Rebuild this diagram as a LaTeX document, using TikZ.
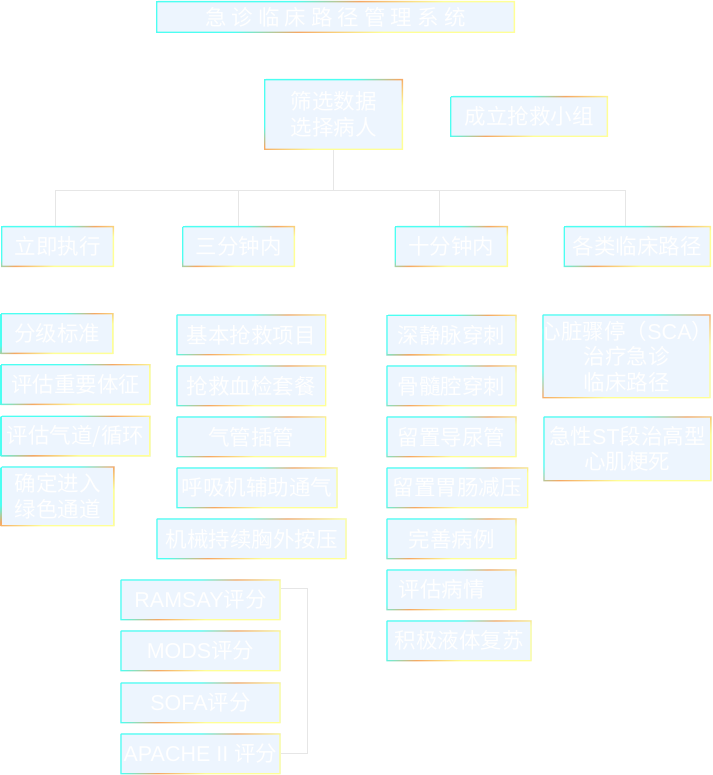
\documentclass[tikz,border=0pt]{standalone}
\usepackage{fontspec}
\setmainfont{Noto Sans CJK SC}
\newfontfamily\latf{Liberation Sans}
\usetikzlibrary{calc}
\definecolor{boxfill}{HTML}{EDF5FE}
\definecolor{gcy}{HTML}{4CFFF2}
\definecolor{gor}{HTML}{F5A864}
\definecolor{gye}{HTML}{FFFF96}
\definecolor{linec}{HTML}{E6E6E6}
\pgfdeclarehorizontalshading{gradsh}{100pt}{color(0pt)=(gcy); color(33pt)=(gcy); color(48pt)=(gor); color(68pt)=(gye); color(100pt)=(gye)}
\newcommand\gradframe[1]{%
  \pgfpointanchor{#1}{north west}\pgfgetlastxy{\gxa}{\gya}%
  \pgfpointanchor{#1}{south east}\pgfgetlastxy{\gxb}{\gyb}%
  \pgfmathsetmacro\gw{\gxb-\gxa}%
  \pgfmathsetmacro\gh{\gya-\gyb}%
  \pgfmathsetmacro\gs{(0.4472*\gw+0.8944*\gh)/100}%
  \begin{scope}[even odd rule]
    \clip (#1.north west) rectangle (#1.south east)
      ([shift={(1.3pt,-1.3pt)}]#1.north west) rectangle ([shift={(-1.3pt,1.3pt)}]#1.south east);
    \begin{scope}[transform canvas={shift={(#1.north west)}, rotate=-63.435, xscale=\gs, yscale=12}]
      \node[inner sep=0pt, outer sep=0pt, anchor=west] at (0,0) {\pgfuseshading{gradsh}};
    \end{scope}
  \end{scope}}
\tikzset{
  box/.style={fill=boxfill, text=white, inner sep=0pt, outer sep=0pt, align=center,
    font=\fontsize{21.5}{25.5}\selectfont, minimum height=41pt},
  conn/.style={draw=linec, line width=1pt}
}
\begin{document}
\begin{tikzpicture}[x=1pt,y=-1pt]
\useasboundingbox (0,0) rectangle (712,775);
% title and top
\node[box, minimum width=359pt, minimum height=32pt] (t) at (335.5,17) {急\hspace{5pt}诊\hspace{5pt}临\hspace{5pt}床\hspace{5pt}路\hspace{5pt}径\hspace{5pt}管\hspace{5pt}理\hspace{5pt}系\hspace{5pt}统};
\node[box, minimum width=139pt, minimum height=71pt] (s) at (333.5,114.5) {筛选数据\\选择病人};
\node[box, minimum width=158pt] (g) at (529,116.5) {成立抢救小组};
% categories
\node[box, minimum width=113pt] (c1) at (57.5,246.5) {立即执行};
\node[box, minimum width=113pt] (c2) at (238.5,246.5) {三分钟内};
\node[box, minimum width=113.5pt] (c3) at (451.25,246.5) {十分钟内};
\node[box, minimum width=147.5pt] (c4) at (637.25,246.5) {各类临床路径};
% column 1
\node[box, minimum width=113pt] (a1) at (57,333.5) {分级标准};
\node[box, minimum width=150pt] (a2) at (75.5,384.5) {评估重要体征};
\node[box, minimum width=150pt] (a3) at (75.5,436) {评估气道/循环};
\node[box, minimum width=114pt, minimum height=60pt] (a4) at (57.5,496.3) {确定进入\\绿色通道};
% column 2
\node[box, minimum width=150pt] (b1) at (251.3,334.8) {基本抢救项目};
\node[box, minimum width=150pt] (b2) at (251.3,385.8) {抢救血检套餐};
\node[box, minimum width=150pt] (b3) at (251.3,436.8) {气管插管};
\node[box, minimum width=161.4pt] (b4) at (257,487.8) {呼吸机辅助通气};
\node[box, minimum width=190.4pt] (b5) at (251.5,538.8) {机械持续胸外按压};
% column 3
\node[box, minimum width=130.4pt] (d1) at (451.5,335) {深静脉穿刺};
\node[box, minimum width=130.4pt] (d2) at (451.5,385.8) {骨髓腔穿刺};
\node[box, minimum width=130.4pt] (d3) at (451.5,436.8) {留置导尿管};
\node[box, minimum width=142pt] (d4) at (457.3,487.8) {留置胃肠减压};
\node[box, minimum width=130.4pt] (d5) at (451.5,538.8) {完善病例};
\node[box, minimum width=130.4pt] (d6) at (451.5,589.8) {评估病情\hspace{20pt}};
\node[box, minimum width=145.4pt] (d7) at (459,640.8) {积极液体复苏};
% column 4
\node[box, minimum width=168.4pt, minimum height=84pt] (e1) at (626.5,356.3) {\makebox[150pt]{心脏骤停（{\latf SCA}）}\\治疗急诊\\临床路径};
\node[box, minimum width=168.2pt, minimum height=65pt] (e2) at (627.4,448.8) {急性{\latf ST}段治高型\\心肌梗死};
% scores
\node[box, minimum width=160.4pt] (f1) at (200.5,599.8) {{\latf RAMSAY}评分};
\node[box, minimum width=160.4pt] (f2) at (200.5,650.8) {{\latf MODS}评分};
\node[box, minimum width=160.4pt] (f3) at (200.5,702.8) {{\latf SOFA}评分};
\node[box, minimum width=160.4pt] (f4) at (200.5,753.8) {{\latf APACHE II }评分};
% connectors
\draw[conn] (s.south) -- ++(0,41) coordinate (hub);
\draw[conn] ([xshift=-2.5pt]c1.north) |- (hub);
\draw[conn] ([xshift=-12.25pt]c4.north) |- (hub);
\draw[conn] (c2.north) -- (c2.north |- hub);
\draw[conn] ([xshift=-12.25pt]c3.north) -- ([xshift=-12.25pt]c3.north |- hub);
\draw[conn] ($(f1.east)+(0,-11.5)$) -- ++(27,0) |- (f4.east);
% gradient frames
\foreach \n in {t,s,g,c1,c2,c3,c4,a1,a2,a3,a4,b1,b2,b3,b4,b5,d1,d2,d3,d4,d5,d6,d7,e1,e2,f1,f2,f3,f4}{\gradframe{\n}}
\end{tikzpicture}
\end{document}
